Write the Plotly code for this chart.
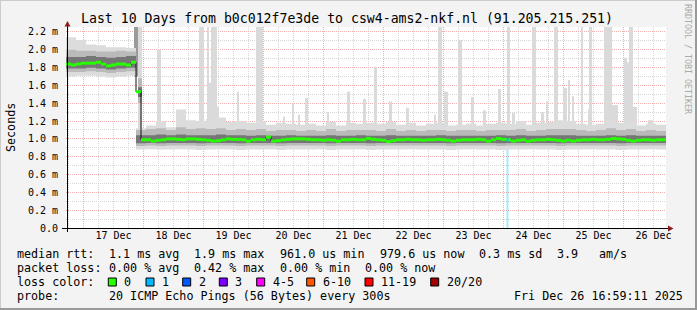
import pandas as pd
import plotly.graph_objects as go

# ---------------- data ----------------
END_TIME = pd.Timestamp("2025-12-26 16:59:11")
START_TIME = END_TIME - pd.Timedelta(days=10)

TITLE = "Last 10 Days from b0c012f7e3de to csw4-ams2-nkf.nl (91.205.215.251)"

BAND_STEP_H = 4      # smoke bands, one value per 4 hours
MEDIAN_STEP_H = 2    # median rtt, one value per 2 hours

# smoke envelope boundaries (ms): outer / middle / inner, upper and lower
band_hi3 = [2.14, 2.11, 2.06, 2.05, 2.03, 2.03, 2.02,
            1.12, 1.15, 1.20, 1.13, 1.33, 1.21, 1.20, 1.22, 1.24, 1.19,
            1.20, 1.18, 1.20, 1.16, 1.18, 1.17, 1.16, 1.17, 1.15, 1.19,
            1.15, 1.18, 1.17, 1.18, 1.17, 1.19, 1.16, 1.18, 1.15, 1.17,
            1.18, 1.15, 1.16, 1.17, 1.15, 1.17, 1.18, 1.17, 1.20, 1.16,
            1.18, 1.19, 1.21, 1.20, 1.17, 1.16, 1.17, 1.22, 1.18, 1.20,
            1.15, 1.17, 1.16]
band_hi2 = [2.00, 1.99, 1.99, 1.98, 1.98, 1.99, 1.98,
            1.10, 1.11, 1.12, 1.10, 1.13, 1.11, 1.12, 1.11, 1.12, 1.10,
            1.11, 1.10, 1.11, 1.09, 1.10, 1.10, 1.09, 1.10, 1.09, 1.11,
            1.09, 1.10, 1.10, 1.10, 1.09, 1.11, 1.09, 1.10, 1.09, 1.10,
            1.10, 1.09, 1.10, 1.10, 1.09, 1.10, 1.10, 1.10, 1.11, 1.09,
            1.10, 1.11, 1.11, 1.11, 1.10, 1.09, 1.10, 1.12, 1.10, 1.11,
            1.09, 1.10, 1.09]
band_hi1 = [1.92, 1.92, 1.93, 1.92, 1.91, 1.92, 1.93,
            1.04, 1.04, 1.05, 1.04, 1.05, 1.04, 1.04, 1.04, 1.05, 1.04,
            1.04, 1.035, 1.04, 1.035, 1.035, 1.04, 1.035, 1.035, 1.035, 1.04,
            1.035, 1.035, 1.04, 1.035, 1.035, 1.04, 1.035, 1.035, 1.035, 1.035,
            1.04, 1.035, 1.035, 1.035, 1.035, 1.035, 1.04, 1.035, 1.04, 1.035,
            1.035, 1.04, 1.04, 1.04, 1.035, 1.035, 1.035, 1.04, 1.035, 1.04,
            1.035, 1.035, 1.035]
band_lo1 = [1.79, 1.79, 1.80, 1.79, 1.78, 1.79, 1.80,
            0.950, 0.955, 0.950, 0.955, 0.955, 0.955, 0.950, 0.955, 0.955, 0.955,
            0.950, 0.955, 0.955, 0.955, 0.950, 0.955, 0.955, 0.955, 0.955, 0.950,
            0.955, 0.955, 0.955, 0.950, 0.955, 0.955, 0.955, 0.955, 0.955, 0.955,
            0.955, 0.950, 0.955, 0.955, 0.955, 0.955, 0.950, 0.955, 0.955, 0.955,
            0.955, 0.955, 0.950, 0.955, 0.955, 0.955, 0.955, 0.955, 0.950, 0.955,
            0.955, 0.955, 0.955]
band_lo2 = [1.75, 1.75, 1.76, 1.75, 1.74, 1.75, 1.76,
            0.920, 0.925, 0.920, 0.925, 0.925, 0.925, 0.920, 0.925, 0.925, 0.925,
            0.920, 0.925, 0.925, 0.925, 0.920, 0.925, 0.925, 0.925, 0.925, 0.920,
            0.925, 0.925, 0.925, 0.920, 0.925, 0.925, 0.925, 0.925, 0.925, 0.925,
            0.925, 0.920, 0.925, 0.925, 0.925, 0.925, 0.920, 0.925, 0.925, 0.925,
            0.925, 0.925, 0.920, 0.925, 0.925, 0.925, 0.925, 0.925, 0.920, 0.925,
            0.925, 0.925, 0.925]
band_lo3 = [1.70, 1.71, 1.71, 1.70, 1.69, 1.70, 1.71,
            0.880, 0.885, 0.880, 0.880, 0.885, 0.880, 0.875, 0.880, 0.885, 0.880,
            0.875, 0.880, 0.880, 0.885, 0.875, 0.880, 0.880, 0.880, 0.885, 0.875,
            0.880, 0.880, 0.885, 0.875, 0.880, 0.880, 0.880, 0.885, 0.880, 0.880,
            0.880, 0.875, 0.880, 0.885, 0.880, 0.880, 0.875, 0.880, 0.880, 0.885,
            0.880, 0.880, 0.875, 0.880, 0.880, 0.885, 0.880, 0.880, 0.875, 0.880,
            0.880, 0.885, 0.880]

# median rtt (ms), every 2 hours
median_ms = [1.84, 1.83, 1.84, 1.85, 1.85, 1.85, 1.86, 1.84, 1.82, 1.83, 1.84, 1.84, 1.83, 1.86,
             1.53,
             0.99, 0.99, 0.975, 0.985, 0.99, 1.0, 1.0, 0.995, 0.99, 1.0,
             1.0, 0.995, 0.99, 0.985, 0.975, 0.98, 0.99, 1.0, 0.995, 0.995,
             0.99, 0.975, 0.99, 0.995, 0.99, 1.02, 0.975, 0.98, 0.99, 0.995,
             1.0, 1.0, 1.0, 0.995, 0.99, 0.99, 0.985, 0.99, 0.985, 0.975,
             0.99, 0.99, 0.995, 0.99, 0.99, 1.005, 0.995, 0.99, 0.985, 0.97,
             0.98, 0.99, 0.99, 0.995, 0.99, 0.99, 0.985, 0.99, 0.99, 0.995,
             0.99, 0.985, 0.975, 0.985, 0.99, 0.99, 0.99, 0.995, 0.99, 0.975,
             0.99, 1.005, 0.995, 0.99, 0.975, 0.985, 0.99, 0.975, 0.985, 0.99,
             0.99, 0.995, 0.99, 0.985, 0.975, 0.985, 0.975, 0.985, 0.99, 0.99,
             0.995, 0.99, 0.99, 0.995, 1.005, 1.0, 0.995, 0.985, 0.975, 0.985,
             0.99, 0.99, 0.985, 0.99, 0.99]

# isolated high samples (hours since start, ms)
spike_start_h = [36.4, 53.2, 56.4, 57.2, 58.0, 60.4, 68.4, 76.0, 86.8, 90.4,
                 92.8, 95.6, 104.4, 112.4, 118.8, 123.2, 129.2, 136.0, 147.2, 148.8,
                 151.2, 156.8, 162.0, 166.8, 172.8, 176.4, 178.4, 186.4, 190.0, 192.0,
                 195.2, 198.8, 200.8, 202.4, 206.0, 208.8, 209.2, 215.2, 218.4, 223.2,
                 224.4, 225.2, 226.8, 232.8]
spike_end_h = [38.0, 55.2, 57.2, 58.0, 60.4, 61.2, 69.2, 78.8, 87.6, 91.2,
               93.6, 96.8, 105.2, 113.6, 120.0, 124.4, 130.4, 137.2, 148.0, 150.4,
               152.8, 158.4, 163.2, 168.0, 174.0, 177.6, 179.6, 188.0, 191.2, 192.8,
               196.8, 200.4, 201.6, 203.2, 206.8, 209.2, 210.4, 218.4, 220.8, 224.4,
               225.2, 226.8, 228.4, 234.8]
spike_top_ms = [2.00, 2.30, 2.30, 1.63, 2.30, 1.36, 1.53, 2.30, 1.25, 1.40,
                1.27, 1.46, 1.30, 1.53, 1.45, 1.81, 1.42, 1.35, 1.27, 2.30,
                1.53, 2.11, 1.47, 1.32, 1.56, 2.30, 1.29, 2.30, 1.30, 1.42,
                2.30, 1.57, 1.66, 1.48, 2.30, 1.33, 2.30, 2.30, 1.38, 1.91,
                1.86, 2.30, 1.36, 1.21]
SPIKE_BASE_MS = 1.0

# route change on 17 Dec: spread of the pings in those two hours
shift_start_h = [27.2, 28.8, 28.8, 28.8]
shift_end_h = [28.8, 30.4, 30.4, 30.4]
shift_lo_ms = [1.70, 0.95, 1.40, 1.47]
shift_hi_ms = [2.30, 2.30, 1.68, 1.58]
shift_rank = [2, 0, 1, 3]          # 0 = outermost pings ... 3 = next to median

# packet loss events
loss_start_h = [176.2]
loss_end_h = [177.0]
loss_rtt_ms = [0.99]
loss_count = [1]

y_tick_values = [0.0, 0.2, 0.4, 0.6, 0.8, 1.0, 1.2, 1.4, 1.6, 1.8, 2.0, 2.2]
y_tick_labels = ["0.0", "0.2 m", "0.4 m", "0.6 m", "0.8 m", "1.0 m", "1.2 m",
                 "1.4 m", "1.6 m", "1.8 m", "2.0 m", "2.2 m"]

stats_rtt = ["1.1 ms avg", "1.9 ms max", "961.0 us min", "979.6 us now", "0.3 ms sd", "3.9", "am/s"]
stats_loss = ["0.00 % avg", "0.42 % max", "0.00 % min", "0.00 % now"]
loss_bins = ["0", "1", "2", "3", "4-5", "6-10", "11-19", "20/20"]
probe_text = "20 ICMP Echo Pings (56 Bytes) every 300s"
stamp_text = "Fri Dec 26 16:59:11 2025"

# ---------------- styles ----------------
MONO = "DejaVu Sans Mono"
W, H = 697, 310
PL, PR, PT, PB = 66, 31, 27, 82
Y_TOP = 2.256
SMOKE = ["#dadada", "#b8b8b8", "#9a9a9a", "#707070"]
BAND_COLORS = ["#dcdcdc", "#bababa", "#767676"]
LOSS_COLORS = ["#26ff00", "#00b8ff", "#0059ff", "#7e00ff", "#ff00ff", "#ff5500", "#ff0000", "#a10000"]
MGRID = "#f0b0b0"
GRID = "#d6d6d6"

pw, ph = W - PL - PR, H - PT - PB


def px_x(x):
    return (x - PL) / pw


def px_y(y):
    return (H - PB - y) / ph


def t(h):
    return START_TIME + pd.Timedelta(hours=h)


def step_xy(vals, step_h):
    xs = [t(step_h * k) for k in range(len(vals) + 1)]
    ys = list(vals) + [vals[-1]]
    return xs, ys


fig = go.Figure()

# spikes (lightest smoke), under the bands
fig.add_trace(go.Bar(
    x=[t((s + e) / 2) for s, e in zip(spike_start_h, spike_end_h)],
    width=[(e - s) * 3600 * 1000 for s, e in zip(spike_start_h, spike_end_h)],
    base=[SPIKE_BASE_MS] * len(spike_top_ms),
    y=[v - SPIKE_BASE_MS for v in spike_top_ms],
    marker=dict(color=SMOKE[0], line=dict(width=0)), hoverinfo="skip"))

# route change block
fig.add_trace(go.Bar(
    x=[t((s + e) / 2) for s, e in zip(shift_start_h, shift_end_h)],
    width=[(e - s) * 3600 * 1000 for s, e in zip(shift_start_h, shift_end_h)],
    base=shift_lo_ms,
    y=[hi - lo for lo, hi in zip(shift_lo_ms, shift_hi_ms)],
    marker=dict(color=[SMOKE[r] for r in shift_rank], line=dict(width=0)), hoverinfo="skip"))

# loss bars
fig.add_trace(go.Bar(
    x=[t((s + e) / 2) for s, e in zip(loss_start_h, loss_end_h)],
    width=[(e - s) * 3600 * 1000 for s, e in zip(loss_start_h, loss_end_h)],
    base=[0] * len(loss_rtt_ms), y=loss_rtt_ms,
    marker=dict(color="rgba(0,184,255,0.33)", line=dict(width=0)), hoverinfo="skip"))

# smoke bands (nested fills)
for lo, hi, col in [(band_lo3, band_hi3, BAND_COLORS[0]),
                    (band_lo2, band_hi2, BAND_COLORS[1]),
                    (band_lo1, band_hi1, BAND_COLORS[2])]:
    xs, ylo = step_xy(lo, BAND_STEP_H)
    _, yhi = step_xy(hi, BAND_STEP_H)
    fig.add_trace(go.Scatter(x=xs, y=ylo, mode="lines", line=dict(width=0, shape="hv"),
                             hoverinfo="skip"))
    fig.add_trace(go.Scatter(x=xs, y=yhi, mode="lines", line=dict(width=0, shape="hv"),
                             fill="tonexty", fillcolor=col, hoverinfo="skip"))

# thin dark median line
mx, my = step_xy(median_ms, MEDIAN_STEP_H)
fig.add_trace(go.Scatter(x=mx, y=my, mode="lines", line=dict(color="#111111", width=1, shape="hv"),
                         hoverinfo="skip"))

# coloured median blocks (loss colour = 0 lost)
gx, gy = [], []
for i, v in enumerate(median_ms):
    gx += [t(i * MEDIAN_STEP_H), t((i + 1) * MEDIAN_STEP_H), None]
    gy += [v, v, None]
fig.add_trace(go.Scatter(x=gx, y=gy, mode="lines", line=dict(color=LOSS_COLORS[0], width=3),
                         hoverinfo="skip"))
lx, ly = [], []
for s, e, v in zip(loss_start_h, loss_end_h, loss_rtt_ms):
    lx += [t(s), t(e), None]
    ly += [v, v, None]
fig.add_trace(go.Scatter(x=lx, y=ly, mode="lines", line=dict(color=LOSS_COLORS[loss_count[0]], width=3),
                         hoverinfo="skip"))

# ---------------- texts ----------------
FS = 11.7


def ann(text, x, y, size=FS, color="#000000", xanchor="left", angle=0):
    return dict(text=text, xref="paper", yref="paper", x=px_x(x), y=px_y(y),
                xanchor=xanchor, yanchor="middle", showarrow=False, textangle=angle,
                borderpad=0, font=dict(family=MONO, size=size, color=color))


anns = [ann(TITLE, 347, 18, size=13.2, xanchor="center"),
        ann("Seconds", 11, 128, angle=-90, xanchor="center"),
        ann("RRDTOOL / TOBI OETIKER", 688, 59, size=8.3, color="#aaaaaa", xanchor="center", angle=90)]

rtt_x = [107.5, 193, 278.5, 378.5, 477.5, 555.5, 598]
anns.append(ann("median rtt:", 16, 254))
for s, x in zip(stats_rtt, rtt_x):
    anns.append(ann(s, x, 254))
loss_x = [107.5, 193, 278.5, 364]
anns.append(ann("packet loss:", 16, 268))
for s, x in zip(stats_loss, loss_x):
    anns.append(ann(s, x, 268))
anns.append(ann("loss color:", 16, 282))
sq_x = [108.3, 146, 182.7, 219.3, 256.7, 306.7, 365, 430.7]
shapes = []
for lab, x, col in zip(loss_bins, sq_x, LOSS_COLORS):
    shapes.append(dict(type="rect", xref="paper", yref="paper", x0=px_x(x), x1=px_x(x + 8),
                       y0=px_y(286), y1=px_y(278), fillcolor=col, line=dict(color="#000000", width=1)))
    anns.append(ann(lab, x + 15, 282))
anns.append(ann("probe:", 16, 296))
anns.append(ann(probe_text, 107.5, 296))
anns.append(ann(stamp_text, 513.3, 296))

# frame (3D border) and axes with arrows
shapes += [
    dict(type="rect", xref="paper", yref="paper", x0=px_x(0), x1=px_x(W), y0=px_y(1), y1=px_y(0),
         fillcolor="#cbcbcb", line=dict(width=0)),
    dict(type="rect", xref="paper", yref="paper", x0=px_x(0), x1=px_x(1), y0=px_y(H), y1=px_y(0),
         fillcolor="#cbcbcb", line=dict(width=0)),
    dict(type="rect", xref="paper", yref="paper", x0=px_x(0), x1=px_x(W), y0=px_y(H), y1=px_y(H - 2),
         fillcolor="#999999", line=dict(width=0)),
    dict(type="rect", xref="paper", yref="paper", x0=px_x(W - 2), x1=px_x(W), y0=px_y(H), y1=px_y(0),
         fillcolor="#999999", line=dict(width=0)),
    dict(type="line", xref="paper", yref="paper", x0=px_x(67.5), x1=px_x(67.5), y0=px_y(232), y1=px_y(25),
         line=dict(color="#000000", width=1)),
    dict(type="line", xref="paper", yref="paper", x0=px_x(62), x1=px_x(669), y0=px_y(228.5), y1=px_y(228.5),
         line=dict(color="#000000", width=1)),
    dict(type="path", xref="paper", yref="paper",
         path="M {} {} L {} {} L {} {} Z".format(px_x(64.5), px_y(26.5), px_x(70.5), px_y(26.5), px_x(67.5), px_y(21)),
         fillcolor="#8b1c1c", line=dict(width=0)),
    dict(type="path", xref="paper", yref="paper",
         path="M {} {} L {} {} L {} {} Z".format(px_x(668), px_y(225.5), px_x(668), px_y(231.5), px_x(673.5), px_y(228.5)),
         fillcolor="#8b1c1c", line=dict(width=0)),
]

fig.update_layout(
    width=W, height=H, autosize=False,
    margin=dict(l=PL, r=PR, t=PT, b=PB, pad=0),
    paper_bgcolor="#f3f3f3", plot_bgcolor="#ffffff",
    showlegend=False, barmode="overlay",
    annotations=anns, shapes=shapes,
    xaxis=dict(type="date", range=[START_TIME, END_TIME], tick0="2025-12-17", dtick=86400000,
               ticklabelmode="period", tickformat="%d %b", ticks="",
               showgrid=True, gridcolor=MGRID, griddash="1px,1px", gridwidth=1,
               minor=dict(tick0="2025-12-17", dtick=21600000, showgrid=True, gridcolor=GRID,
                          griddash="1px,1px", gridwidth=1),
               showline=False, zeroline=False, layer="above traces", fixedrange=True,
               tickfont=dict(family=MONO, size=10, color="#000000")),
    yaxis=dict(range=[0, Y_TOP], tickmode="array", tickvals=y_tick_values, ticktext=y_tick_labels,
               ticks="", showgrid=True, gridcolor=MGRID, griddash="1px,1px", gridwidth=1,
               minor=dict(tick0=0, dtick=0.1, showgrid=True, gridcolor=GRID, griddash="1px,1px", gridwidth=1),
               showline=False, zeroline=False, layer="above traces", fixedrange=True,
               ticklabelstandoff=7,
               tickfont=dict(family=MONO, size=10, color="#000000")),
)

fig.write_html("out.html")
